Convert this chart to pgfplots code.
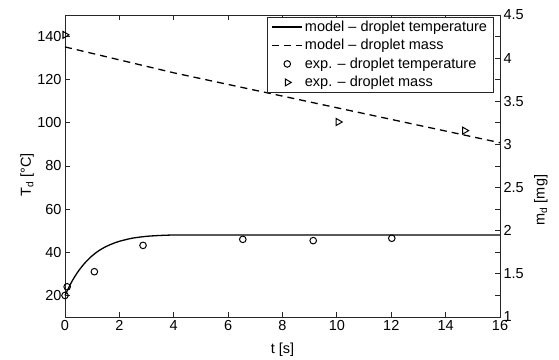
\documentclass[border=0pt]{standalone}
\usepackage{fontspec}
\setmainfont{Liberation Sans}
\usepackage{pgfplots}
\pgfplotsset{compat=1.18}
\pgfplotsset{
  /pgf/number format/assume math mode=true,
  every axis/.append style={
    scale only axis, width=435pt, height=302pt,
    xmin=0, xmax=16,
    tick align=inside,
    major tick length=5pt,
    axis line style={black!85, line width=0.8pt},
    every tick/.style={black!85, line width=0.8pt},
    tick label style={font=\fontsize{14.5}{16}\selectfont},
    label style={font=\fontsize{14.5}{16}\selectfont},
    clip=false,
  },
  legend image code/.code={\draw[mark repeat=2,mark phase=2,#1] plot coordinates {(0pt,0pt) (15pt,0pt) (30pt,0pt)};},
}
\begin{document}
\begin{tikzpicture}
\path[use as bounding box] (-65pt,-42pt) rectangle (494pt,317pt);
\begin{axis}[
  ymin=10, ymax=150,
  xtick={0,2,...,16}, ytick={20,40,...,140},
  xtick pos=both, ytick pos=both, yticklabel pos=left, xticklabel pos=bottom,
  xlabel={t [s]},
  ylabel={T\textsubscript{d} [°C]},
  xlabel style={at={(axis description cs:0.5,-0.109)}, anchor=center},
  ylabel style={at={(axis description cs:-0.087,0.47)}, anchor=center},
]
\addplot[black, line width=1.3pt, smooth] coordinates {
(0,20) (0.25,26.4) (0.5,31.4) (0.75,35.3) (1.0,38.4) (1.25,40.8) (1.5,42.6) (1.75,44.0) (2.0,45.1) (2.25,45.9) (2.5,46.6) (3.0,47.4) (3.5,47.8) (4.0,48.0) (5,48.0) (16,48.0)
};
\addplot[black, only marks, mark=o, mark size=3.3pt, mark options={line width=1pt}] coordinates {
(0,20) (0.08,24) (1.08,31) (2.87,43.2) (6.54,46) (9.13,45.4) (12.02,46.5)
};
\end{axis}
\begin{axis}[
  ymin=1, ymax=4.5,
  axis x line=none,
  axis y line*=right,
  ytick={1,1.5,...,4.5},
  ylabel={m\textsubscript{d} [mg]},
  ylabel style={at={(axis description cs:1.094,0.387)}, anchor=center},
  legend cell align=left,
  legend style={at={(rel axis cs:0.985,0.995)}, anchor=north east,
    draw=black!85, line width=0.8pt, font=\fontsize{14.5}{16}\selectfont,
    inner xsep=4pt, inner ysep=2pt, row sep=2.5pt},
]
\addlegendimage{black, line width=1.3pt}
\addlegendentry{model -- droplet temperature}
\addplot[black, line width=1.3pt, dash pattern=on 7pt off 5pt] coordinates {
(0,4.13) (4,3.83) (8,3.56) (12,3.29) (16,3.02)
};
\addlegendentry{model -- droplet mass}
\addlegendimage{black, only marks, mark=o, mark size=3.3pt, mark options={line width=1pt}}
\addlegendentry{exp. -- droplet temperature}
\addplot[black, only marks, mark=triangle, mark size=4pt, mark options={rotate=-90, line width=1pt}] coordinates {
(0,4.27) (10.05,3.26) (14.7,3.16)
};
\addlegendentry{exp. -- droplet mass}
\end{axis}
\end{tikzpicture}
\end{document}
